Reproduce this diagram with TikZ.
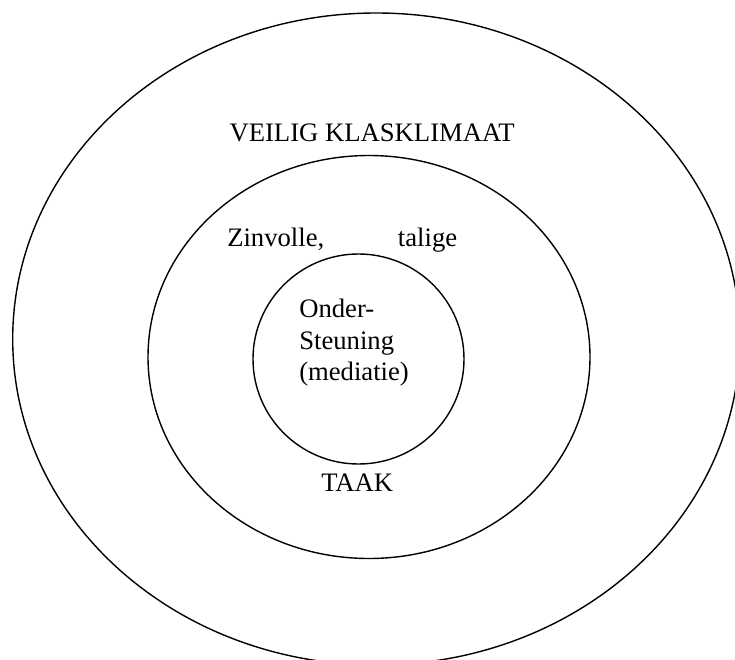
\documentclass[tikz,border=0pt]{standalone}
\usepackage{amsmath}
\usepackage{xcolor}
\usepackage{fontspec}
\setmainfont{Liberation Serif}
\usepackage{tikz}

\begin{document}
\begin{tikzpicture}[x=0.75pt,y=0.75pt,yscale=-1,xscale=1,
  ring/.style={line width=1.05pt},
  lbl/.style={inner sep=0pt, font=\fontsize{20}{23.8}\selectfont}]
\useasboundingbox (0,0) rectangle (735,660);
\clip (0,0) rectangle (735,660);

%Shape: Ellipse
\draw [ring] (376.3,339) ellipse [x radius=363.6, y radius=326];
%Shape: Ellipse
\draw [ring] (369,357) ellipse [x radius=221, y radius=201.5];
%Shape: Circle
\draw [ring] (358.5,359) ellipse [x radius=105.5, y radius=105];

% Text Node
\node (klimaat) at (229.3,141.7) [anchor=base west][lbl] {VEILIG KLASKLIMAAT};
% Text Node
\node (zinvolle) at (227,246) [anchor=base west][lbl] {Zinvolle,};
% Text Node
\node (talige) at (397.7,246) [anchor=base west][lbl] {talige};
% Text Node
\node (steun) at (299,298.5) [anchor=north west][lbl, align=left] {Onder-\\Steuning\\(mediatie)};
% Text Node
\node (taak) at (321,491.7) [anchor=base west][lbl] {TAAK};
\end{tikzpicture}
\end{document}
